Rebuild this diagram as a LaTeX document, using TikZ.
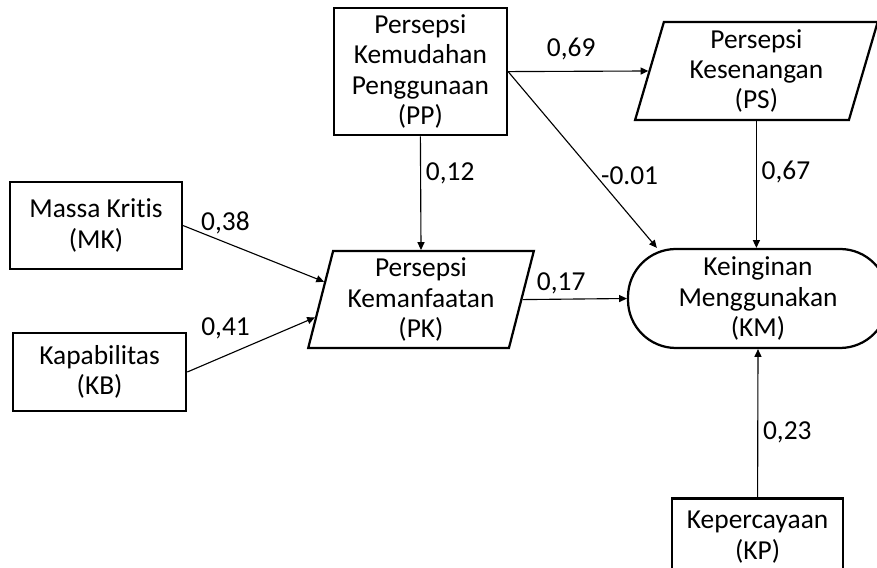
\documentclass[tikz,border=0pt]{standalone}
\usepackage{fontspec}
\setmainfont{Carlito}[Ligatures=NoCommon]
\usetikzlibrary{arrows.meta, positioning, calc, shapes.geometric}
\tikzset{
    pathdiagram/.style={>={Triangle[length=5.5pt, width=5pt]}, font=\fontsize{19.5}{21.6}\selectfont},
    block/.style={draw, line width=1.6pt, align=center, inner sep=0pt},
    slanted/.style={draw, line width=1.6pt, align=center, inner sep=0pt, trapezium,
        trapezium left angle=76, trapezium right angle=104, trapezium stretches=true},
    terminal/.style={draw, line width=1.6pt, align=center, rounded corners=1.2cm},
    link/.style={->, line width=0.8pt},
}

\begin{document}
\begin{tikzpicture}[pathdiagram]
    \useasboundingbox (0,0) rectangle (21.925,14.2);
    \clip (0,0) rectangle (21.925,14.2);

    \node[block, minimum width=4.33cm, minimum height=3.18cm] (PP) at (10.51,12.41) {Persepsi\\Kemudahan\\Penggunaan\\(PP)};
    \node[slanted, minimum width=6.075cm, minimum height=2.45cm] (PS) at (18.91,12.425) {Persepsi\\Kesenangan\\(PS)};
    \node[block, minimum width=4.3cm, minimum height=2.175cm] (MK) at (2.4,8.56) {Massa Kritis\\(MK)};
    \node[slanted, minimum width=5.65cm, minimum height=2.425cm] (PK) at (10.525,6.71) {Persepsi\\Kemanfaatan\\(PK)};
    \node[block, minimum width=4.33cm, minimum height=1.95cm] (KB) at (2.49,4.9) {Kapabilitas\\(KB)};
    \node[terminal, minimum width=6.5cm, minimum height=2.475cm] (KM) at (18.95,6.7375) {Keinginan\\Menggunakan\\(KM)};
    \node[block, minimum width=4.275cm, minimum height=1.925cm] (KP) at (18.94,0.775) {Kepercayaan\\(KP)};

    \draw[link] (PP.east) -- (PS.west) node[pos=0.45, above=4pt] {0,69};
    \draw[link] (PP.south) -- (PK.north) node[pos=0.33, right] {0,12};
    \draw[link] (PP.east) -- ($(KM.north west)+(0.75,0)$) node[pos=0.59, right] {-0.01};
    \draw[link] (PS.south) -- (PS.south |- KM.north) node[pos=0.4, right] {0,67};
    \draw[link] (MK.east) -- ($(PK.bottom left corner)!0.68!(PK.top left corner)$) node[pos=0.3, above=2pt] {0,38};
    \draw[link] (KB.east) -- ($(PK.bottom left corner)!0.32!(PK.top left corner)$) node[pos=0.3, above=8pt] {0,41};
    \draw[link] (PK.east) -- (KM.west) node[pos=0.37, above] {0,17};
    \draw[link] (KP.north) -- (KM.south) node[pos=0.44, right] {0,23};

\end{tikzpicture}
\end{document}
